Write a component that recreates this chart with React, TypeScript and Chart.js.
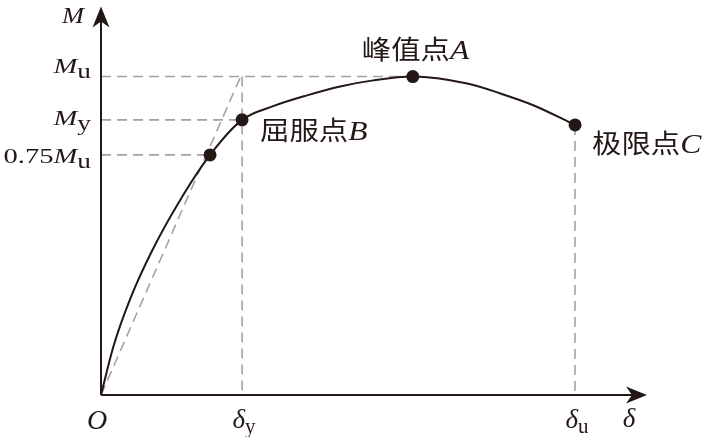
import React, { useEffect, useRef } from 'react';
import { Chart, registerables } from 'chart.js';

Chart.register(...registerables);

// ---- data (δ in units of δy, M in units of Mu) ----
const curveX = [0, 0.087, 0.207, 0.362, 0.55, 0.773, 1.0, 1.22, 1.46, 1.695, 1.93, 2.21, 2.596, 2.83, 3.064, 3.36];
const curveY = [0, 0.151, 0.302, 0.453, 0.604, 0.754, 0.864, 0.907, 0.941, 0.969, 0.988, 1.0, 0.978, 0.947, 0.91, 0.848];

const keyX = [0.773, 1.0, 2.21, 3.36];
const keyY = [0.754, 0.864, 1.0, 0.848];
const keyLabelCJK = ['', '屈服点', '峰值点', '极限点'];
const keyLabelLetter = ['', 'B', 'A', 'C'];

const yTickValues = [1.0, 0.864, 0.754];
const yTickPrefix = ['', '', '0.75'];
const yTickMain = ['M', 'M', 'M'];
const yTickSub = ['u', 'y', 'u'];

const xTickValues = [1.0, 3.36];
const xTickSub = ['y', 'u'];

const secantEnd = { x: 0.99, y: 1.0 };
const X_MAX = 3.87;
const Y_MAX = 1.22;

// ---- styles ----
const INK = '#231815';
const GRAY = '#a3a3a3';
const SERIF = '"Liberation Serif", "DejaVu Serif", serif';
const CJK = '"Noto Sans CJK SC", sans-serif';

type Seg = { t: string; font: string; dy?: number };

function drawSegs(ctx: CanvasRenderingContext2D, segs: Seg[], x: number, y: number, align: 'left' | 'right' | 'center', sx = 1) {
  ctx.save();
  ctx.textBaseline = 'alphabetic';
  ctx.textAlign = 'left';
  ctx.fillStyle = INK;
  const widths = segs.map((s) => {
    ctx.font = s.font;
    return ctx.measureText(s.t).width;
  });
  const total = widths.reduce((a, b) => a + b, 0) * sx;
  const start = align === 'left' ? x : align === 'right' ? x - total : x - total / 2;
  ctx.translate(start, y);
  ctx.scale(sx, 1);
  let cx = 0;
  segs.forEach((s, i) => {
    ctx.font = s.font;
    ctx.fillText(s.t, cx, s.dy || 0);
    cx += widths[i];
  });
  ctx.restore();
}

function arrow(ctx: CanvasRenderingContext2D, tx: number, ty: number, dirX: number, dirY: number) {
  const len = 21, w = 8.5, notch = 15;
  const px = -dirY, py = dirX;
  ctx.beginPath();
  ctx.moveTo(tx, ty);
  ctx.lineTo(tx - dirX * len + px * w, ty - dirY * len + py * w);
  ctx.lineTo(tx - dirX * notch, ty - dirY * notch);
  ctx.lineTo(tx - dirX * len - px * w, ty - dirY * len - py * w);
  ctx.closePath();
  ctx.fill();
}

const yTickShift = [-4, 5, 8];
const keyLabelOffset = [
  [0, 0],
  [18, 20],
  [-51, -18],
  [17, 28],
];

const overlayPlugin = {
  id: 'overlay',
  afterDatasetsDraw(chart: any) {
    const { ctx, chartArea, scales } = chart;
    const xs = scales.x, ys = scales.y;
    const ox = xs.getPixelForValue(0), oy = ys.getPixelForValue(0);
    ctx.save();
    // axes
    ctx.strokeStyle = INK;
    ctx.fillStyle = INK;
    ctx.lineWidth = 2;
    ctx.beginPath();
    ctx.moveTo(ox, oy);
    ctx.lineTo(ox, chartArea.top + 14);
    ctx.moveTo(ox, oy);
    ctx.lineTo(chartArea.right - 14, oy);
    ctx.stroke();
    arrow(ctx, ox, chartArea.top, 0, -1);
    arrow(ctx, chartArea.right, oy, 1, 0);

    // axis titles
    drawSegs(ctx, [{ t: 'M', font: `italic 24px ${SERIF}` }], ox - 17, chartArea.top + 16, 'right', 1.1);
    drawSegs(ctx, [{ t: 'δ', font: `italic 27px ${SERIF}` }], chartArea.right - 18, oy + 32, 'center');
    drawSegs(ctx, [{ t: 'O', font: `italic 28px ${SERIF}` }], ox - 4, oy + 34, 'center');

    // y tick labels
    yTickValues.forEach((v, i) => {
      const py = ys.getPixelForValue(v) + yTickShift[i];
      const segs: Seg[] = [];
      if (yTickPrefix[i]) segs.push({ t: yTickPrefix[i], font: `22px ${SERIF}` });
      segs.push({ t: yTickMain[i], font: `italic 22px ${SERIF}` });
      segs.push({ t: yTickSub[i], font: `21px ${SERIF}`, dy: 5 });
      drawSegs(ctx, segs, ox - 10, py, 'right', 1.3);
    });

    // x tick labels
    xTickValues.forEach((v, i) => {
      const px = xs.getPixelForValue(v);
      drawSegs(
        ctx,
        [
          { t: 'δ', font: `italic 27px ${SERIF}` },
          { t: xTickSub[i], font: `21px ${SERIF}`, dy: 5 },
        ],
        px + 2,
        oy + 33,
        'center'
      );
    });

    // key point labels
    keyX.forEach((kx, i) => {
      if (!keyLabelCJK[i]) return;
      const px = xs.getPixelForValue(kx) + keyLabelOffset[i][0];
      const py = ys.getPixelForValue(keyY[i]) + keyLabelOffset[i][1];
      drawSegs(
        ctx,
        [
          { t: keyLabelCJK[i], font: `26px ${CJK}` },
          { t: keyLabelLetter[i], font: `italic 28px ${SERIF}` },
        ],
        px,
        py,
        'left',
        1.13
      );
    });
    ctx.restore();
  },
};

const dashed = (pts: { x: number; y: number }[]) => ({
  data: pts,
  showLine: true,
  borderColor: GRAY,
  borderWidth: 1.6,
  borderDash: [10, 6],
  pointRadius: 0,
  tension: 0,
  order: 3,
  clip: false as any,
});

export default function App() {
  const ref = useRef<HTMLCanvasElement>(null);
  useEffect(() => {
    if (!ref.current) return;
    const curve = curveX.map((x, i) => ({ x, y: curveY[i] }));
    const keys = keyX.map((x, i) => ({ x, y: keyY[i] }));
    const chart = new Chart(ref.current, {
      type: 'scatter',
      data: {
        datasets: [
          {
            data: keys,
            showLine: false,
            pointRadius: 6.5,
            pointBackgroundColor: INK,
            pointBorderColor: INK,
            pointBorderWidth: 0,
            order: 0,
            clip: false as any,
          },
          {
            data: curve,
            showLine: true,
            borderColor: INK,
            borderWidth: 2,
            pointRadius: 0,
            cubicInterpolationMode: 'monotone',
            order: 1,
            clip: false as any,
          },
          dashed([{ x: 0, y: yTickValues[0] }, { x: keyX[2], y: yTickValues[0] }]),
          dashed([{ x: 0, y: yTickValues[1] }, { x: keyX[1], y: yTickValues[1] }]),
          dashed([{ x: 0, y: yTickValues[2] }, { x: keyX[0], y: yTickValues[2] }]),
          dashed([{ x: 0, y: 0 }, secantEnd]),
          dashed([{ x: xTickValues[0], y: yTickValues[0] }, { x: xTickValues[0], y: 0 }]),
          dashed([{ x: xTickValues[1], y: keyY[3] }, { x: xTickValues[1], y: 0 }]),
        ] as any,
      },
      options: {
        animation: false,
        responsive: false,
        devicePixelRatio: 1,
        layout: { padding: { left: 101, right: 62, top: 2, bottom: 42 } },
        plugins: { legend: { display: false }, tooltip: { enabled: false } },
        events: [],
        scales: {
          x: { type: 'linear', min: 0, max: X_MAX, display: false },
          y: { type: 'linear', min: 0, max: Y_MAX, display: false },
        },
      },
      plugins: [overlayPlugin],
    });
    return () => chart.destroy();
  }, []);
  return (
    <div style={{ position: 'fixed', left: 0, top: 0, width: 709, height: 437, background: '#fff' }}>
      <canvas ref={ref} width={709} height={437} />
    </div>
  );
}
